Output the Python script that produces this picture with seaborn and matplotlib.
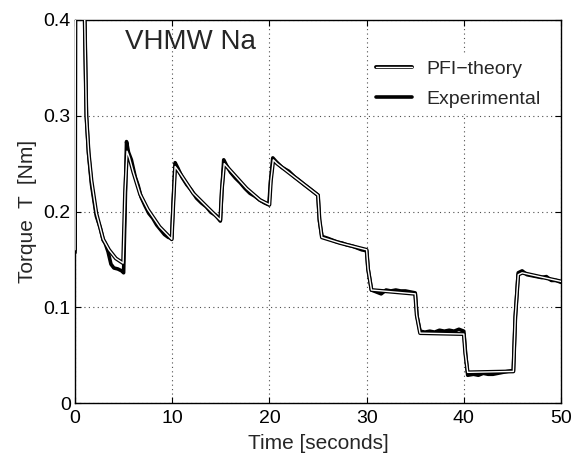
import numpy as np
import pandas as pd
import matplotlib
matplotlib.use("Agg")
import matplotlib.pyplot as plt
import seaborn as sns
from matplotlib.lines import Line2D
from matplotlib.legend_handler import HandlerTuple

# ---- data ----
theory_t = [0, 0.05, 0.5, 1.0, 1.17, 1.4, 1.7, 2.2, 2.9, 3.5, 4.2, 4.95,
            5.15, 5.35, 5.6, 6.0, 6.7, 7.5, 8.7, 9.95,
            10.1, 10.3, 10.6, 12.17, 13.55, 14.95,
            15.1, 15.35, 15.7, 17.66, 19.03, 20.0,
            20.15, 20.4, 20.8, 25.0,
            25.15, 25.4, 27.3, 30.0,
            30.15, 30.5, 35.0,
            35.15, 35.5, 40.0,
            40.15, 40.4, 45.1,
            45.3, 45.6, 46.0, 50.0]
theory_v = [0.160, 0.45, 0.70, 0.400, 0.300, 0.262, 0.232, 0.198, 0.171, 0.160, 0.151, 0.146,
            0.220, 0.263, 0.256, 0.241, 0.218, 0.202, 0.184, 0.171,
            0.205, 0.247, 0.243, 0.219, 0.205, 0.191,
            0.222, 0.250, 0.246, 0.224, 0.212, 0.207,
            0.232, 0.254, 0.250, 0.217,
            0.192, 0.173, 0.167, 0.160,
            0.140, 0.118, 0.114,
            0.092, 0.073, 0.072,
            0.052, 0.032, 0.033,
            0.090, 0.134, 0.136, 0.127]

exp_t = [0, 0.02, 0.5, 1.0, 1.17, 1.4, 1.7, 2.2, 2.6, 2.9, 3.1, 3.4, 3.7, 4.0, 4.4, 4.8, 5.0,
         5.15, 5.3, 5.5, 5.8, 6.2, 6.5, 6.8, 7.2, 7.6, 8.0, 8.4, 8.8, 9.2, 9.6, 9.95,
         10.1, 10.3, 10.6, 11.0, 11.5, 12.0, 12.5, 13.0, 13.5, 14.0, 14.5, 14.95,
         15.1, 15.3, 15.6, 16.0, 16.5, 17.0, 17.5, 18.0, 18.5, 19.0, 19.5, 19.95,
         20.1, 20.35, 20.7, 21.3, 22.0, 22.6, 23.0, 23.6, 24.0, 24.5, 25.0,
         25.15, 25.4, 26.0, 26.5, 27.0, 27.5, 28.0, 28.5, 29.0, 29.5, 30.0,
         30.15, 30.5, 31.0, 31.5, 32.0, 32.5, 33.0, 33.5, 34.0, 34.5, 35.0,
         35.2, 35.5, 36.0, 36.5, 37.0, 37.5, 38.0, 38.5, 39.0, 39.5, 40.0,
         40.2, 40.4, 41.0, 41.5, 42.0, 42.5, 43.0, 43.5, 44.0, 44.5, 45.1,
         45.3, 45.6, 46.0, 46.5, 47.0, 47.5, 48.0, 48.5, 49.0, 49.5, 50.0]
exp_v = [0.157, 0.45, 0.70, 0.400, 0.300, 0.260, 0.228, 0.195, 0.183, 0.170, 0.167, 0.158, 0.145, 0.141, 0.140, 0.138, 0.136,
         0.200, 0.273, 0.262, 0.254, 0.236, 0.227, 0.215, 0.206, 0.198, 0.193, 0.186, 0.181, 0.176, 0.173, 0.172,
         0.210, 0.251, 0.245, 0.236, 0.228, 0.222, 0.214, 0.209, 0.205, 0.199, 0.196, 0.190,
         0.220, 0.254, 0.248, 0.241, 0.235, 0.230, 0.224, 0.219, 0.216, 0.212, 0.209, 0.207,
         0.230, 0.256, 0.252, 0.246, 0.242, 0.236, 0.233, 0.228, 0.225, 0.221, 0.217,
         0.190, 0.174, 0.172, 0.170, 0.168, 0.167, 0.165, 0.164, 0.162, 0.160, 0.159,
         0.140, 0.118, 0.116, 0.114, 0.118, 0.117, 0.118, 0.117, 0.117, 0.116, 0.115,
         0.090, 0.075, 0.074, 0.075, 0.074, 0.076, 0.075, 0.076, 0.075, 0.077, 0.075,
         0.050, 0.029, 0.030, 0.029, 0.031, 0.030, 0.030, 0.031, 0.032, 0.033, 0.034,
         0.090, 0.136, 0.138, 0.134, 0.133, 0.132, 0.131, 0.132, 0.128, 0.128, 0.126]

x_ticks = [0, 10, 20, 30, 40, 50]
y_ticks = [0, 0.1, 0.2, 0.3, 0.4]
y_tick_labels = ["0", "0.1", "0.2", "0.3", "0.4"]

theory_df = pd.DataFrame({"t": theory_t, "v": theory_v})
exp_df = pd.DataFrame({"t": exp_t, "v": exp_v})

sns.set_style("ticks")
plt.rcParams["font.family"] = ["Liberation Sans", "DejaVu Sans"]

fig = plt.figure(figsize=(5.76, 4.55), dpi=100)
ax = fig.add_axes([75 / 576, 1 - 403 / 455, 486 / 576, 383 / 455])

sns.lineplot(data=exp_df, x="t", y="v", ax=ax, sort=False, estimator=None,
             color="black", linewidth=2.6, zorder=3)
sns.lineplot(data=theory_df, x="t", y="v", ax=ax, sort=False, estimator=None,
             color="black", linewidth=2.8, zorder=4)
sns.lineplot(data=theory_df, x="t", y="v", ax=ax, sort=False, estimator=None,
             color="white", linewidth=1.0, zorder=5)

ax.set_xlim(0, 50)
ax.set_ylim(0, 0.4)
ax.set_xticks(x_ticks)
ax.set_xticklabels([str(t) for t in x_ticks])
ax.set_yticks(y_ticks)
ax.set_yticklabels(y_tick_labels)
ax.tick_params(direction="in", length=4, width=0.8, top=True, right=True,
               labelsize=14, colors="black")
ax.tick_params(axis="x", pad=5)
ax.tick_params(axis="y", pad=3)
for s in ax.spines.values():
    s.set_visible(True)
    s.set_color("black")
    s.set_linewidth(1.0)

ax.grid(True, linestyle=(0, (1, 3)), color="0.3", linewidth=0.8)
ax.set_axisbelow(True)

ax.set_xlabel("Time [seconds]", fontsize=15, labelpad=5)
ax.set_ylabel("Torque  T  [Nm]", fontsize=15)
ax.yaxis.set_label_coords(-0.078, 0.5)

ax.text(0.103, 0.9235, "VHMW Na", transform=ax.transAxes, fontsize=20,
        ha="left", va="baseline")

h_theory = (Line2D([], [], color="black", linewidth=2.8),
            Line2D([], [], color="white", linewidth=1.0))
h_exp = Line2D([], [], color="black", linewidth=2.6)
leg = ax.legend([h_theory, h_exp], ["PFI\u2212theory", "Experimental"],
                handler_map={tuple: HandlerTuple(ndivide=1)},
                loc="upper left", bbox_to_anchor=(0.608, 0.91),
                borderaxespad=0, borderpad=0.3, fontsize=14,
                handlelength=1.86, handletextpad=0.7, labelspacing=0.65,
                frameon=True, fancybox=False)
leg.get_frame().set_facecolor("white")
leg.get_frame().set_edgecolor("none")
leg.get_frame().set_alpha(1)
leg.set_zorder(6)

fig.savefig("out.png", dpi=100)
